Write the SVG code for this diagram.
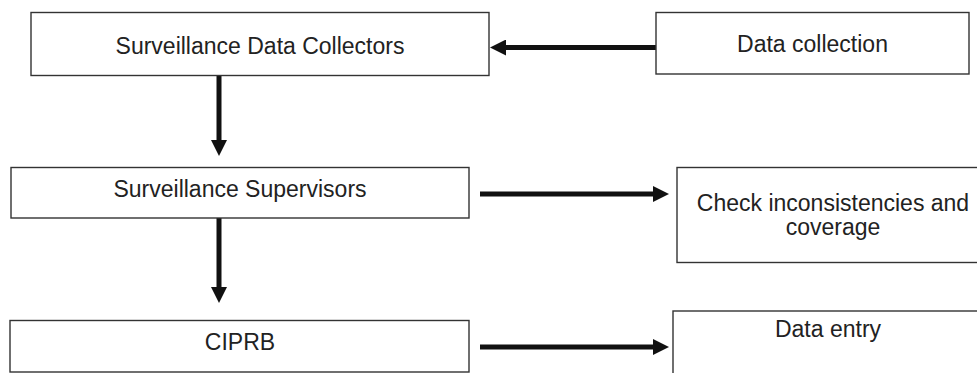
<svg xmlns="http://www.w3.org/2000/svg" width="977" height="373" viewBox="0 0 977 373">
<style>
.box{fill:#fff;stroke:#333;stroke-width:1.4}
.lbl{font-family:"Liberation Sans",Arial,sans-serif;font-size:23px;fill:#222;text-anchor:middle}
.arr{stroke:#111;stroke-width:5;fill:none;marker-end:url(#ah)}
</style>
<defs>
<marker id="ah" markerUnits="userSpaceOnUse" markerWidth="16" markerHeight="16" refX="0" refY="8" orient="auto" viewBox="0 0 16 16">
<path d="M0,0 L16,8 L0,16 z" fill="#111"/>
</marker>
</defs>
<rect width="977" height="373" fill="#fff"/>
<g id="connectors">
<line class="arr" x1="656" y1="47.5" x2="506" y2="47.5"/>
<line class="arr" x1="219" y1="75" x2="219" y2="140"/>
<line class="arr" x1="219" y1="218" x2="219" y2="287"/>
<line class="arr" x1="480" y1="194" x2="653" y2="194"/>
<line class="arr" x1="480" y1="347" x2="653" y2="347"/>
</g>
<g id="collectors">
<rect class="box" x="31" y="12.5" width="458" height="63"/>
<text class="lbl" x="260" y="54">Surveillance Data Collectors</text>
</g>
<g id="datacollection">
<rect class="box" x="656" y="12.5" width="313" height="61.5"/>
<text class="lbl" x="812.5" y="52">Data collection</text>
</g>
<g id="supervisors">
<rect class="box" x="11" y="167.5" width="458" height="50.5"/>
<text class="lbl" x="240" y="197">Surveillance Supervisors</text>
</g>
<g id="check">
<rect class="box" x="677" y="167.5" width="312" height="95"/>
<text class="lbl" x="833" y="211">Check inconsistencies and</text>
<text class="lbl" x="833" y="235">coverage</text>
</g>
<g id="ciprb">
<rect class="box" x="10" y="320.5" width="459" height="51.5"/>
<text class="lbl" x="240" y="350">CIPRB</text>
</g>
<g id="dataentry">
<rect class="box" x="673" y="311" width="310" height="70"/>
<text class="lbl" x="828" y="337">Data entry</text>
</g>
</svg>
